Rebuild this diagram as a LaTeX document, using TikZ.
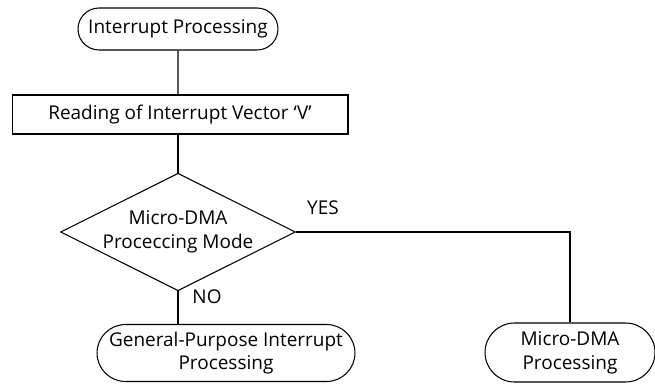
\documentclass[tikz,border=0pt]{standalone}
\usepackage{fontspec}
\setmainfont{Open Sans}
\usetikzlibrary{shapes.geometric,shapes.misc}

\begin{document}
\begin{tikzpicture}[x=0.02cm, y=-0.02cm]

    % --- Styles ---
    \tikzset{
        every node/.style={font=\fontsize{10.8}{13.5}\selectfont, align=center, inner sep=0pt},
        terminal/.style={draw, line width=0.6pt, rounded rectangle},
        process/.style={draw, line width=0.6pt, rectangle},
        decision/.style={draw, line width=0.6pt, diamond, aspect=2, minimum width=4.7cm, minimum height=2.1cm},
        flow/.style={line width=0.6pt},
        branchlabel/.style={font=\fontsize{10.8}{13.5}\selectfont}
    }

    % Rahmen
    \useasboundingbox (0,0) rectangle (655,384);

    % --- 1. Knoten ---
    \node[terminal, minimum width=4cm, minimum height=0.84cm] (start) at (178, 29) {Interrupt Processing};
    \node[process, minimum width=6.72cm, minimum height=0.78cm] (readvec) at (180, 114.5) {Reading of Interrupt Vector `V'};
    \node[decision] (mode) at (178, 232) {Micro-DMA\\Proceccing Mode};
    \node[terminal, minimum width=5.16cm, minimum height=1.14cm] (general) at (226, 353) {General-Purpose Interrupt\\Processing};
    \node[terminal, minimum width=3.4cm, minimum height=1.18cm] (microdma) at (570, 352.5) {Micro-DMA\\Processing};

    % --- 2. Verbindungen ---
    \draw[flow] (start) -- (start |- readvec.north);
    \draw[flow] (start |- readvec.south) -- (mode.north);
    \draw[flow] (mode.south) -- (mode.south |- general.north);
    \draw[flow] (mode.east) -| (microdma.north);

    % --- 3. Beschriftungen ---
    \node[branchlabel] (yes) at (323, 208) {YES};
    \node[branchlabel] (no) at (207, 297) {NO};

\end{tikzpicture}
\end{document}
